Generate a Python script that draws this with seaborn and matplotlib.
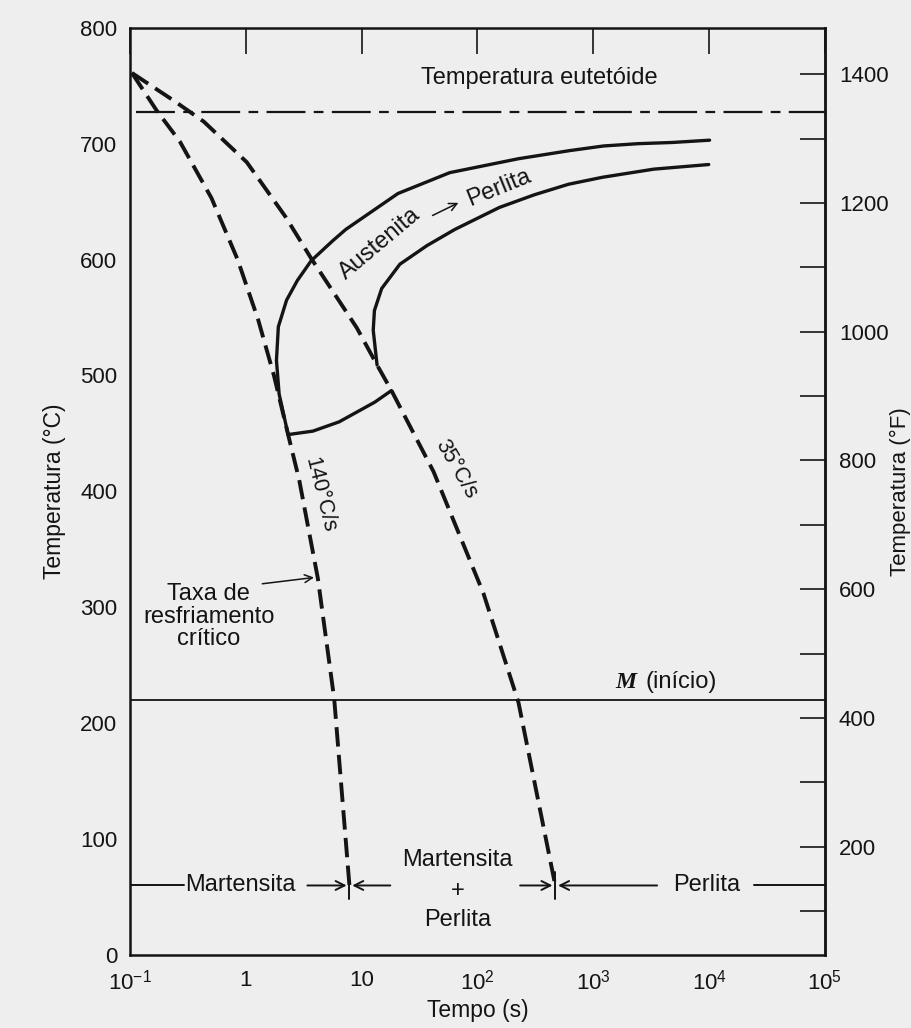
import matplotlib
matplotlib.use("Agg")
import matplotlib.pyplot as plt
import seaborn as sns
import pandas as pd

# ---------------- data (time in s, temperature in °C) ----------------
t_140 = [0.104, 0.169, 0.269, 0.506, 0.85, 1.28, 1.75, 2.32, 2.89, 4.19, 5.8, 7.85]
T_140 = [761, 729, 702, 653, 600, 548, 500, 449, 410, 325, 221, 60]

t_35 = [0.104, 0.24, 0.434, 1.02, 2.2, 3.67, 9.1, 13.6, 18.1, 41.8, 112.7, 226, 470]
T_35 = [761, 737, 719, 684, 637, 601, 541, 509, 487, 417, 312, 218, 60]

# pearlite start (outer solid) and finish (inner solid)
t_start = [2.32, 1.94, 1.84, 1.91, 2.25, 2.79, 3.67, 5.6, 7.3, 20.6, 57.7, 226, 625, 1225, 2440, 4760, 10100]
T_start = [449, 484, 513, 542, 565, 582, 599, 616, 626, 657, 675, 687, 694, 698, 700, 701, 703]

t_finish = [13.6, 12.6, 12.9, 14.9, 21.4, 36.6, 63.8, 155, 312, 612, 1200, 3320, 9930]
T_finish = [509, 539, 556, 575, 596, 612, 626, 645, 656, 665, 671, 678, 682]

# lower boundary between the two cooling curves
t_bound = [2.32, 3.8, 6.4, 13, 18.1]
T_bound = [449, 452, 460, 477, 487]

T_eutectoid = 727
T_ms = 220
T_row = 60

x_ticks = [1e-1, 1, 10, 1e2, 1e3, 1e4, 1e5]
x_labels = [r"10$^{-1}$", "1", "10", r"10$^{2}$", r"10$^{3}$", r"10$^{4}$", r"10$^{5}$"]
y_ticks = [0, 100, 200, 300, 400, 500, 600, 700, 800]
f_major = [200, 400, 600, 800, 1000, 1200, 1400]
f_minor = [100, 300, 500, 700, 900, 1100, 1300]

# ---------------- style ----------------
sns.set_theme(style="white")
plt.rcParams["font.family"] = ["Liberation Sans", "DejaVu Sans"]
plt.rcParams["mathtext.fontset"] = "custom"
plt.rcParams["mathtext.rm"] = "Liberation Sans"
plt.rcParams["mathtext.it"] = "Liberation Serif:italic:bold"
plt.rcParams["mathtext.bf"] = "Liberation Sans:bold"
plt.rcParams["lines.scale_dashes"] = False

BG = "#eeeeee"
INK = "#141414"

fig = plt.figure(figsize=(9.12, 10.28), dpi=100, facecolor=BG)
ax = fig.add_axes([0.1425, 0.071, 0.762, 0.902])
ax.set_facecolor(BG)

def curve(t, T, **kw):
    df = pd.DataFrame({"t": t, "T": T})
    sns.lineplot(data=df, x="t", y="T", ax=ax, sort=False, estimator=None,
                 color=INK, legend=False, **kw)

dash = (0, (14, 6))
curve(t_140, T_140, lw=2.8, linestyle=dash)
curve(t_35, T_35, lw=2.8, linestyle=dash)
curve(t_start, T_start, lw=2.4, solid_capstyle="round", solid_joinstyle="round")
curve(t_finish, T_finish, lw=2.4, solid_capstyle="round", solid_joinstyle="round")
curve(t_bound, T_bound, lw=2.4, solid_capstyle="round", solid_joinstyle="round")

# eutectoid and Ms lines
ax.plot([0.113, 1e5], [T_eutectoid, T_eutectoid], color=INK, lw=1.6,
        linestyle=(0, (28, 6, 7, 6)))
ax.plot([0.1, 1e5], [T_ms, T_ms], color=INK, lw=1.3)

ax.set_xscale("log")
ax.set_xlim(0.1, 1e5)
ax.set_ylim(0, 800)

# ---------------- axes ----------------
for s in ax.spines.values():
    s.set_linewidth(1.8)
    s.set_color(INK)

ax.set_xticks(x_ticks)
ax.set_xticklabels(x_labels)
ax.xaxis.set_minor_locator(matplotlib.ticker.NullLocator())
ax.set_yticks(y_ticks)
ax.tick_params(axis="both", which="major", direction="in", length=19, width=1.2,
               colors=INK, labelsize=16, top=True, right=False, pad=9)
ax.tick_params(axis="x", pad=11)

def c2f(c):
    return c * 9 / 5 + 32

def f2c(f):
    return (f - 32) * 5 / 9

sec = ax.secondary_yaxis("right", functions=(c2f, f2c))
sec.set_yticks(f_major)
sec.set_yticks(f_minor, minor=True)
sec.tick_params(which="both", direction="in", length=18, width=1.2, colors=INK,
                labelsize=16, pad=10)
sec.spines["right"].set_linewidth(1.8)
sec.set_ylabel("Temperatura (°F)", fontsize=16, color=INK, labelpad=1)

ax.set_xlabel("Tempo (s)", fontsize=16.5, color=INK, labelpad=3)
ax.set_ylabel("Temperatura (°C)", fontsize=16.5, color=INK, labelpad=10)

# ---------------- annotations ----------------
fs = 17
ax.text(340, 757, "Temperatura eutetóide", ha="center", va="center", fontsize=fs, color=INK)
ax.text(2500, 226, r"$M$", ha="right", va="bottom", fontsize=fs, color=INK)
ax.text(2850, 226, "(início)", ha="left", va="bottom", fontsize=fs, color=INK)

ax.text(14.5, 614, "Austenita", ha="center", va="center", rotation=40, fontsize=fs, color=INK)
ax.text(154, 662, "Perlita", ha="center", va="center", rotation=22, fontsize=fs, color=INK)
ax.annotate("", xy=(72, 650), xytext=(39, 637),
            arrowprops=dict(arrowstyle="->", lw=1.1, color=INK, mutation_scale=14))

ax.text(4.34, 397, "140°C/s", ha="center", va="center", rotation=-76, fontsize=15.5, color=INK)
ax.text(65, 419, "35°C/s", ha="center", va="center", rotation=-60, fontsize=15.5, color=INK)

ax.text(0.478, 292, "Taxa de\nresfriamento\ncrítico", ha="center", va="center",
        fontsize=fs, color=INK, linespacing=1.05)
ax.annotate("", xy=(4.1, 326), xytext=(1.315, 320),
            arrowprops=dict(arrowstyle="->", lw=1.1, color=INK, mutation_scale=14))

# bottom row of microstructure ranges
row_kw = dict(arrowstyle="->", lw=1.4, color=INK, mutation_scale=16)
ax.plot([0.1, 0.29], [T_row, T_row], color=INK, lw=1.4)
ax.text(0.9, T_row, "Martensita", ha="center", va="center", fontsize=fs, color=INK)
ax.annotate("", xy=(7.85, T_row), xytext=(3.22, T_row), arrowprops=row_kw)
ax.annotate("", xy=(7.85, T_row), xytext=(18.7, T_row), arrowprops=row_kw)
ax.plot([7.85, 7.85], [48, 72], color=INK, lw=1.4)

ax.text(67, 82, "Martensita", ha="center", va="center", fontsize=fs, color=INK)
ax.text(67, 55, "+", ha="center", va="center", fontsize=fs, color=INK)
ax.text(67, 30, "Perlita", ha="center", va="center", fontsize=fs, color=INK)

ax.annotate("", xy=(470, T_row), xytext=(221, T_row), arrowprops=row_kw)
ax.annotate("", xy=(470, T_row), xytext=(3760, T_row), arrowprops=row_kw)
ax.plot([470, 470], [48, 72], color=INK, lw=1.4)
ax.text(9500, T_row, "Perlita", ha="center", va="center", fontsize=fs, color=INK)
ax.plot([24600, 1e5], [T_row, T_row], color=INK, lw=1.4)

fig.savefig("out.png", dpi=100, facecolor=BG)
